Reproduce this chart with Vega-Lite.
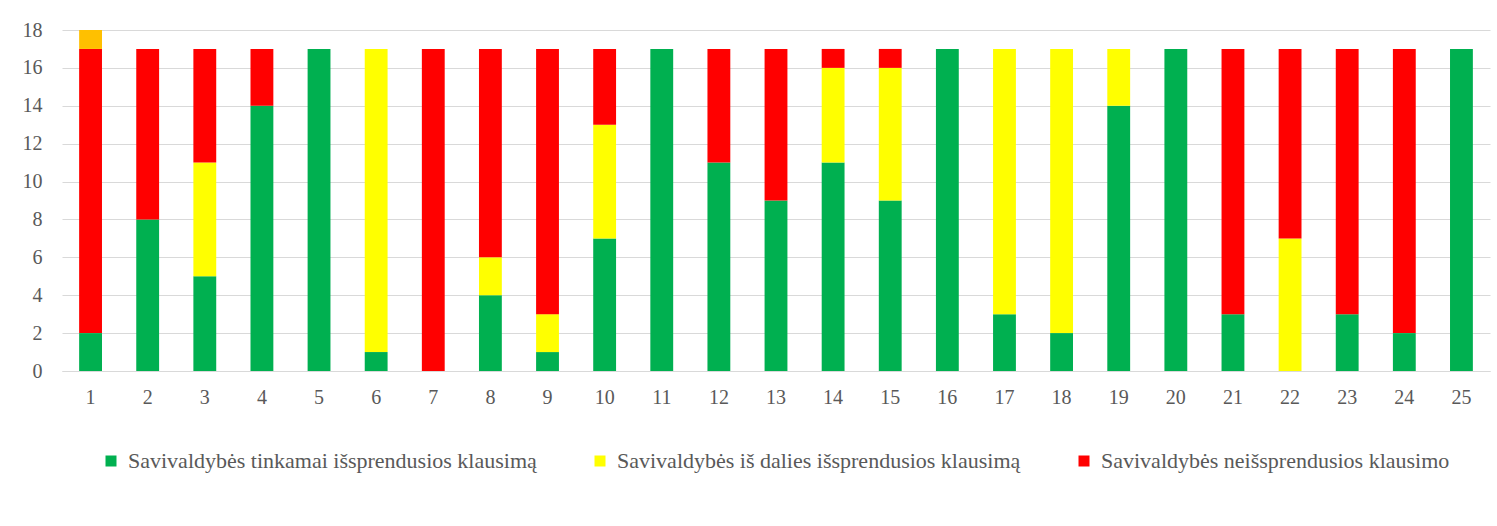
{
  "$schema": "https://vega.github.io/schema/vega-lite/v6.json",
  "width": 1428,
  "height": 341,
  "autosize": {"type": "none"},
  "padding": {"left": 62, "top": 30, "right": 7, "bottom": 155},
  "background": "white",
  "config": {
    "view": {"stroke": null},
    "font": "Liberation Serif",
    "axis": {"labelFont": "Liberation Serif", "labelFontSize": 20, "labelColor": "#595959"},
    "legend": {"labelFont": "Liberation Serif", "labelFontSize": 22, "labelColor": "#595959"}
  },
  "data": {
    "values": [
      {"nr": 1, "k": 1, "s": "Savivaldybės tinkamai išsprendusios klausimą", "v": 2},
      {"nr": 1, "k": 3, "s": "Savivaldybės neišsprendusios klausimo", "v": 15},
      {"nr": 1, "k": 4, "s": "Kita", "v": 1},
      {"nr": 2, "k": 1, "s": "Savivaldybės tinkamai išsprendusios klausimą", "v": 8},
      {"nr": 2, "k": 3, "s": "Savivaldybės neišsprendusios klausimo", "v": 9},
      {"nr": 3, "k": 1, "s": "Savivaldybės tinkamai išsprendusios klausimą", "v": 5},
      {"nr": 3, "k": 2, "s": "Savivaldybės iš dalies išsprendusios klausimą", "v": 6},
      {"nr": 3, "k": 3, "s": "Savivaldybės neišsprendusios klausimo", "v": 6},
      {"nr": 4, "k": 1, "s": "Savivaldybės tinkamai išsprendusios klausimą", "v": 14},
      {"nr": 4, "k": 3, "s": "Savivaldybės neišsprendusios klausimo", "v": 3},
      {"nr": 5, "k": 1, "s": "Savivaldybės tinkamai išsprendusios klausimą", "v": 17},
      {"nr": 6, "k": 1, "s": "Savivaldybės tinkamai išsprendusios klausimą", "v": 1},
      {"nr": 6, "k": 2, "s": "Savivaldybės iš dalies išsprendusios klausimą", "v": 16},
      {"nr": 7, "k": 3, "s": "Savivaldybės neišsprendusios klausimo", "v": 17},
      {"nr": 8, "k": 1, "s": "Savivaldybės tinkamai išsprendusios klausimą", "v": 4},
      {"nr": 8, "k": 2, "s": "Savivaldybės iš dalies išsprendusios klausimą", "v": 2},
      {"nr": 8, "k": 3, "s": "Savivaldybės neišsprendusios klausimo", "v": 11},
      {"nr": 9, "k": 1, "s": "Savivaldybės tinkamai išsprendusios klausimą", "v": 1},
      {"nr": 9, "k": 2, "s": "Savivaldybės iš dalies išsprendusios klausimą", "v": 2},
      {"nr": 9, "k": 3, "s": "Savivaldybės neišsprendusios klausimo", "v": 14},
      {"nr": 10, "k": 1, "s": "Savivaldybės tinkamai išsprendusios klausimą", "v": 7},
      {"nr": 10, "k": 2, "s": "Savivaldybės iš dalies išsprendusios klausimą", "v": 6},
      {"nr": 10, "k": 3, "s": "Savivaldybės neišsprendusios klausimo", "v": 4},
      {"nr": 11, "k": 1, "s": "Savivaldybės tinkamai išsprendusios klausimą", "v": 17},
      {"nr": 12, "k": 1, "s": "Savivaldybės tinkamai išsprendusios klausimą", "v": 11},
      {"nr": 12, "k": 3, "s": "Savivaldybės neišsprendusios klausimo", "v": 6},
      {"nr": 13, "k": 1, "s": "Savivaldybės tinkamai išsprendusios klausimą", "v": 9},
      {"nr": 13, "k": 3, "s": "Savivaldybės neišsprendusios klausimo", "v": 8},
      {"nr": 14, "k": 1, "s": "Savivaldybės tinkamai išsprendusios klausimą", "v": 11},
      {"nr": 14, "k": 2, "s": "Savivaldybės iš dalies išsprendusios klausimą", "v": 5},
      {"nr": 14, "k": 3, "s": "Savivaldybės neišsprendusios klausimo", "v": 1},
      {"nr": 15, "k": 1, "s": "Savivaldybės tinkamai išsprendusios klausimą", "v": 9},
      {"nr": 15, "k": 2, "s": "Savivaldybės iš dalies išsprendusios klausimą", "v": 7},
      {"nr": 15, "k": 3, "s": "Savivaldybės neišsprendusios klausimo", "v": 1},
      {"nr": 16, "k": 1, "s": "Savivaldybės tinkamai išsprendusios klausimą", "v": 17},
      {"nr": 17, "k": 1, "s": "Savivaldybės tinkamai išsprendusios klausimą", "v": 3},
      {"nr": 17, "k": 2, "s": "Savivaldybės iš dalies išsprendusios klausimą", "v": 14},
      {"nr": 18, "k": 1, "s": "Savivaldybės tinkamai išsprendusios klausimą", "v": 2},
      {"nr": 18, "k": 2, "s": "Savivaldybės iš dalies išsprendusios klausimą", "v": 15},
      {"nr": 19, "k": 1, "s": "Savivaldybės tinkamai išsprendusios klausimą", "v": 14},
      {"nr": 19, "k": 2, "s": "Savivaldybės iš dalies išsprendusios klausimą", "v": 3},
      {"nr": 20, "k": 1, "s": "Savivaldybės tinkamai išsprendusios klausimą", "v": 17},
      {"nr": 21, "k": 1, "s": "Savivaldybės tinkamai išsprendusios klausimą", "v": 3},
      {"nr": 21, "k": 3, "s": "Savivaldybės neišsprendusios klausimo", "v": 14},
      {"nr": 22, "k": 2, "s": "Savivaldybės iš dalies išsprendusios klausimą", "v": 7},
      {"nr": 22, "k": 3, "s": "Savivaldybės neišsprendusios klausimo", "v": 10},
      {"nr": 23, "k": 1, "s": "Savivaldybės tinkamai išsprendusios klausimą", "v": 3},
      {"nr": 23, "k": 3, "s": "Savivaldybės neišsprendusios klausimo", "v": 14},
      {"nr": 24, "k": 1, "s": "Savivaldybės tinkamai išsprendusios klausimą", "v": 2},
      {"nr": 24, "k": 3, "s": "Savivaldybės neišsprendusios klausimo", "v": 15},
      {"nr": 25, "k": 1, "s": "Savivaldybės tinkamai išsprendusios klausimą", "v": 17}
    ]
  },
  "mark": {"type": "bar"},
  "encoding": {
    "x": {
      "field": "nr",
      "type": "ordinal",
      "scale": {"paddingInner": 0.6, "paddingOuter": 0.3},
      "axis": {
        "title": null,
        "labelAngle": 0,
        "ticks": false,
        "domainColor": "#d9d9d9",
        "domainWidth": 1,
        "labelPadding": 16
      }
    },
    "y": {
      "field": "v",
      "type": "quantitative",
      "stack": "zero",
      "scale": {"domain": [0, 18], "nice": false},
      "axis": {
        "title": null,
        "values": [0, 2, 4, 6, 8, 10, 12, 14, 16, 18],
        "domain": false,
        "ticks": false,
        "gridColor": "#d9d9d9",
        "gridWidth": 1,
        "labelPadding": 20
      }
    },
    "color": {
      "field": "s",
      "type": "nominal",
      "scale": {
        "domain": [
          "Savivaldybės tinkamai išsprendusios klausimą",
          "Savivaldybės iš dalies išsprendusios klausimą",
          "Savivaldybės neišsprendusios klausimo",
          "Kita"
        ],
        "range": ["#00B050", "#FFFF00", "#FF0000", "#FFC000"]
      },
      "legend": {
        "title": null,
        "orient": "none",
        "legendX": 38,
        "legendY": 420,
        "direction": "horizontal",
        "values": [
          "Savivaldybės tinkamai išsprendusios klausimą",
          "Savivaldybės iš dalies išsprendusios klausimą",
          "Savivaldybės neišsprendusios klausimo"
        ],
        "symbolType": "square",
        "symbolSize": 121,
        "symbolStrokeWidth": 0,
        "labelOffset": 6,
        "columnPadding": 52,
        "labelLimit": 600
      }
    },
    "order": {"field": "k", "sort": "ascending"}
  }
}
